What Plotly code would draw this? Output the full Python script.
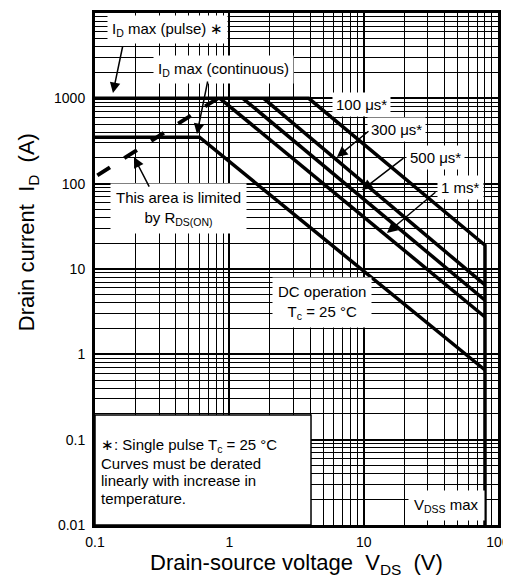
import numpy as np
import plotly.graph_objects as go

# ---------------- data ----------------
# I_D max (pulse) limit, then 100 us line, then V_DSS max
pulse_v = [0.1, 3.9]
pulse_i = [1000, 1000]
us100_v = [3.9, 80]
us100_i = [1000, 19]
vdss_v = [80, 80]
vdss_i = [19, 0.01]

us300_v = [1.8, 80]
us300_i = [1000, 6.5]
us500_v = [1.26, 80]
us500_i = [1000, 4.3]
ms1_v = [0.85, 80]
ms1_i = [1000, 2.74]

cont_v = [0.1, 0.6]
cont_i = [350, 350]
dc_v = [0.6, 80]
dc_i = [350, 0.655]

rds_v = [0.82, 0.1]
rds_i = [1000, 120]

x_tick_vals = [0.1, 1, 10, 100]
x_tick_text = ["0.1", "1", "10", "100"]
y_tick_vals = [0.01, 0.1, 1, 10, 100, 1000, 10000]
y_tick_text = ["0.01", "0.1", "1", "10", "100", "1000", "10000"]

note_lines = ["∗: Single pulse T<sub>c</sub> = 25 °C",
              "Curves must be derated",
              "linearly with increase in",
              "temperature."]

FONT = "Liberation Sans, Arial, sans-serif"
LW = 3.5

fig = go.Figure()

def add_line(x, y, dash="solid", width=LW):
    fig.add_trace(go.Scatter(x=x, y=y, mode="lines",
                             line=dict(color="black", width=width, dash=dash),
                             hoverinfo="skip", showlegend=False))

add_line(pulse_v + us100_v[1:] + vdss_v[1:], pulse_i + us100_i[1:] + vdss_i[1:])
add_line(us300_v, us300_i)
add_line(us500_v, us500_i)
add_line(ms1_v, ms1_i)
add_line(cont_v + dc_v[1:], cont_i + dc_i[1:])
add_line(rds_v, rds_i, dash="15px,17px", width=4)

axis_common = dict(
    type="log",
    showline=True, mirror=True, linewidth=3, linecolor="black",
    showgrid=True, gridcolor="black", gridwidth=2,
    ticks="outside", tickcolor="rgba(0,0,0,0)",
    tickfont=dict(family=FONT, size=14, color="black"),
    minor=dict(dtick="D1", showgrid=True, gridcolor="black", gridwidth=1, ticks=""),
    zeroline=False,
)

fig.update_xaxes(range=[-1, 2], tickvals=x_tick_vals, ticktext=x_tick_text, ticklen=2, **axis_common)
fig.update_yaxes(range=[-2, 4], tickvals=y_tick_vals, ticktext=y_tick_text, ticklen=4, **axis_common)

annotations = []

def label(text, xp, yp, size=15, align="center", xanchor="center", pad=4, bg="white"):
    annotations.append(dict(text=text, x=xp, y=yp, xref="paper", yref="paper",
                            showarrow=False, align=align, xanchor=xanchor, yanchor="middle",
                            bgcolor=bg, borderpad=pad,
                            font=dict(family=FONT, size=size, color="black")))

label("I<sub>D</sub> max (pulse) ∗", 0.181, 0.967)
label("I<sub>D</sub> max (continuous)", 0.318, 0.889)
label("100 μs*", 0.6625, 0.822, pad=3)
label("300 μs*", 0.749, 0.773, pad=3)
label("500 μs*", 0.844, 0.717, pad=3)
label("1 ms*", 0.906, 0.660, pad=3)
label("This area is limited<br>by R<sub>DS(ON)</sub>", 0.208, 0.619, pad=5)
label("DC operation<br>T<sub>c</sub> = 25 °C", 0.563, 0.434, pad=5)
label("V<sub>DSS</sub> max", 0.871, 0.039, pad=5)

# note box
fig.add_shape(type="rect", xref="paper", yref="paper", x0=0, y0=0, x1=0.536, y1=0.215,
              fillcolor="white", line=dict(color="black", width=1.5), layer="above")
for k, line in enumerate(note_lines):
    label(line, 0.012, 0.155 - k * 0.0345, size=15, align="left", xanchor="left",
          pad=0, bg="rgba(0,0,0,0)")

# arrows: (tip V, tip I, tail dx px, tail dy px)
arrows = [
    (0.136, 1155, 10, -48),
    (0.574, 382, 11, -54),
    (0.195, 205, 16, 31),
    (6.33, 205, 33, -27),
    (9.72, 84.3, 43, -33),
    (14.9, 26.4, 50, -42),
]
for v, i, dx, dy in arrows:
    annotations.append(dict(text="", x=np.log10(v), y=np.log10(i), xref="x", yref="y",
                            showarrow=True, ax=dx, ay=dy, axref="pixel", ayref="pixel",
                            arrowhead=2, arrowsize=1.4, arrowwidth=1.5, arrowcolor="black",
                            standoff=0, startstandoff=0))

# axis titles
annotations.append(dict(text="Drain current  I<sub>D</sub>  (A)", x=-0.166, y=0.572,
                        xref="paper", yref="paper", showarrow=False, textangle=-90,
                        xanchor="center", yanchor="middle",
                        font=dict(family=FONT, size=22, color="black")))
annotations.append(dict(text="Drain-source voltage  V<sub>DS</sub>  (V)", x=0.501, y=-0.076,
                        xref="paper", yref="paper", showarrow=False,
                        xanchor="center", yanchor="middle",
                        font=dict(family=FONT, size=22, color="black")))

fig.update_layout(
    width=503, height=572,
    margin=dict(l=87, r=13, t=5, b=55, autoexpand=False),
    paper_bgcolor="white", plot_bgcolor="white",
    annotations=annotations,
    showlegend=False,
)

fig.write_html("out.html")
